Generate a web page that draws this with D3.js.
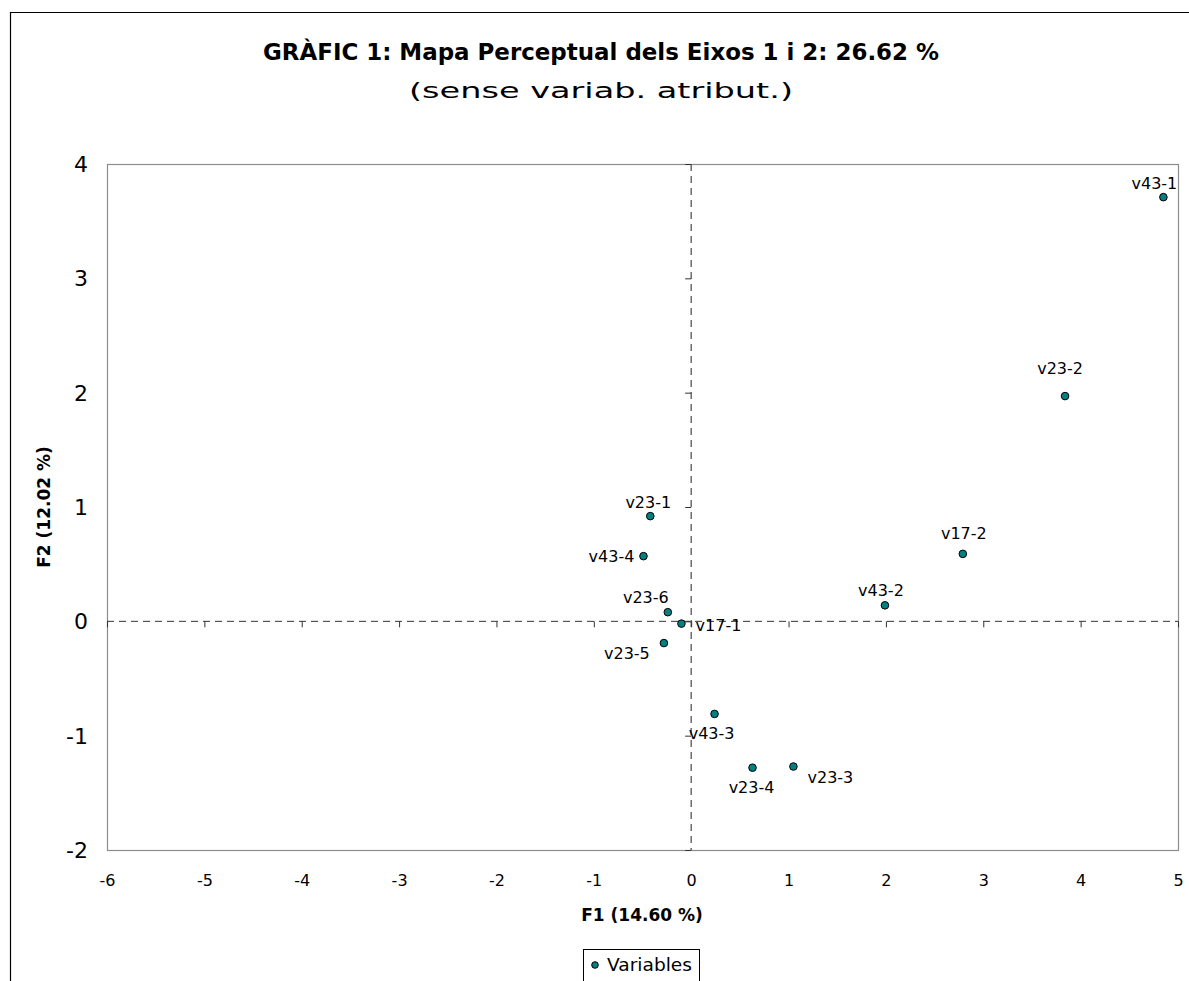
<!DOCTYPE html>
<html>
<head>
<meta charset="utf-8">
<script src="https://cdn.jsdelivr.net/npm/d3@7"></script>
<style>
  html, body { margin: 0; padding: 0; background: #fff; }
  svg { display: block; font-family: "DejaVu Sans", "Open Sans", sans-serif; }
</style>
</head>
<body>
<svg id="chart" width="1189" height="981"></svg>
<script>
// ---- data ----
const labels = ["v43-1","v23-2","v17-2","v43-2","v23-1","v43-4","v23-6","v17-1","v23-5","v43-3","v23-4","v23-3"];
const f1Values = [4.85, 3.84, 2.79, 1.99, -0.42, -0.49, -0.24, -0.10, -0.28, 0.24, 0.63, 1.05];
const f2Values = [3.71, 1.97, 0.59, 0.14, 0.92, 0.57, 0.08, -0.02, -0.19, -0.81, -1.28, -1.27];
// label placement relative to point (pixels): [dx, dy]
const labelOffsets = [[-9,-14],[-5,-28],[1,-20],[-4,-15],[-2,-14],[-32,0],[-22,-15],[37,2],[-37,10],[-3,20],[-1,20],[37,11]];
const xTicks = [-6,-5,-4,-3,-2,-1,0,1,2,3,4,5];
const yTicks = [-2,-1,0,1,2,3,4];
const titleText = "GRÀFIC 1: Mapa Perceptual dels Eixos 1 i 2: 26.62 %";
const subtitleText = "(sense variab. atribut.)";
const xTitle = "F1 (14.60 %)";
const yTitle = "F2 (12.02 %)";
const legendText = "Variables";

const svg = d3.select("#chart");
const W = 1189, H = 981;
const plot = {left: 107, right: 1178, top: 164, bottom: 850};

const x = d3.scaleLinear().domain([-6, 5]).range([plot.left, plot.right]);
const y = d3.scaleLinear().domain([-2, 4]).range([plot.bottom, plot.top]);

// outer chart border
svg.append("path")
  .attr("d", `M10.5,${H} L10.5,12.5 L${W},12.5`)
  .attr("fill","none").attr("stroke","#000").attr("stroke-width",1.2);

// title
svg.append("text").attr("x", 601).attr("y", 60).attr("text-anchor","middle")
  .attr("font-size", 23).attr("font-weight","bold").attr("fill","#000")
  .attr("textLength", 676).attr("lengthAdjust","spacingAndGlyphs")
  .text(titleText);
svg.append("text").attr("x", 601).attr("y", 98).attr("text-anchor","middle")
  .attr("font-size", 22).attr("fill","#000")
  .attr("textLength", 384).attr("lengthAdjust","spacingAndGlyphs")
  .text(subtitleText);

// plot frame
svg.append("rect")
  .attr("x", plot.left + 0.5).attr("y", plot.top + 0.5)
  .attr("width", plot.right - plot.left).attr("height", plot.bottom - plot.top)
  .attr("fill","#fff").attr("stroke","#8c8c8c").attr("stroke-width",1.2);

// dashed zero lines
svg.append("line")
  .attr("x1", plot.left).attr("x2", plot.right)
  .attr("y1", y(0)).attr("y2", y(0))
  .attr("stroke","#333").attr("stroke-width",1).attr("stroke-dasharray","7,5");
svg.append("line")
  .attr("x1", x(0)).attr("x2", x(0))
  .attr("y1", plot.top).attr("y2", plot.bottom)
  .attr("stroke","#555").attr("stroke-width",1.3).attr("stroke-dasharray","7,5");

// tick marks on zero axes
const xTickAxis = d3.axisBottom(x).tickValues(xTicks).tickSize(6).tickFormat("");
const gxt = svg.append("g").attr("transform", `translate(0,${y(0)})`).call(xTickAxis);
gxt.select(".domain").remove();
gxt.selectAll(".tick line").attr("stroke","#333");

const yTickAxis = d3.axisLeft(y).tickValues(yTicks).tickSize(6).tickFormat("");
const gyt = svg.append("g").attr("transform", `translate(${x(0)},0)`).call(yTickAxis);
gyt.select(".domain").remove();
gyt.selectAll(".tick line").attr("stroke","#333");

// tick labels at low positions
const fmt = d => String(d);
const xLabAxis = d3.axisBottom(x).tickValues(xTicks).tickSize(0).tickPadding(0).tickFormat(fmt);
const gxl = svg.append("g").attr("transform", `translate(0,${plot.bottom + 30})`).call(xLabAxis);
gxl.select(".domain").remove();
gxl.selectAll("text").attr("font-size", 16).attr("fill","#000")
  .attr("dy", null).attr("dominant-baseline","central").attr("font-family","DejaVu Sans");

const yLabAxis = d3.axisLeft(y).tickValues(yTicks).tickSize(0).tickPadding(0).tickFormat(fmt);
const gyl = svg.append("g").attr("transform", `translate(88,0)`).call(yLabAxis);
gyl.select(".domain").remove();
gyl.selectAll("text").attr("font-size", 22).attr("fill","#000")
  .attr("dy", null).attr("dominant-baseline","central").attr("font-family","DejaVu Sans");

// axis titles
svg.append("text").attr("x", 642).attr("y", 915).attr("text-anchor","middle")
  .attr("dominant-baseline","central")
  .attr("font-size", 17).attr("font-weight","bold").text(xTitle);
svg.append("text").attr("transform", `translate(44,${(plot.top+plot.bottom)/2}) rotate(-90)`)
  .attr("text-anchor","middle").attr("dominant-baseline","central")
  .attr("font-size", 17).attr("font-weight","bold").text(yTitle);

// points
const pts = labels.map((l,i) => ({label:l, f1:f1Values[i], f2:f2Values[i], off:labelOffsets[i]}));
svg.append("g").selectAll("circle").data(pts).join("circle")
  .attr("cx", d => x(d.f1)).attr("cy", d => y(d.f2)).attr("r", 3.8)
  .attr("fill","#008080").attr("stroke","#000").attr("stroke-width",1);

svg.append("g").selectAll("text").data(pts).join("text")
  .attr("x", d => x(d.f1) + d.off[0]).attr("y", d => y(d.f2) + d.off[1])
  .attr("text-anchor","middle").attr("dominant-baseline","central")
  .attr("font-size", 16).attr("fill","#000")
  .text(d => d.label);

// legend
const lg = svg.append("g");
lg.append("rect").attr("x", 583.5).attr("y", 949.5).attr("width", 116).attr("height", 40)
  .attr("fill","#fff").attr("stroke","#000").attr("stroke-width",1);
lg.append("circle").attr("cx", 595).attr("cy", 965).attr("r", 3.3)
  .attr("fill","#008080").attr("stroke","#000").attr("stroke-width",1);
lg.append("text").attr("x", 607).attr("y", 965).attr("dominant-baseline","central")
  .attr("font-size", 17).attr("textLength", 85).attr("lengthAdjust","spacingAndGlyphs")
  .text(legendText);
</script>
</body>
</html>
